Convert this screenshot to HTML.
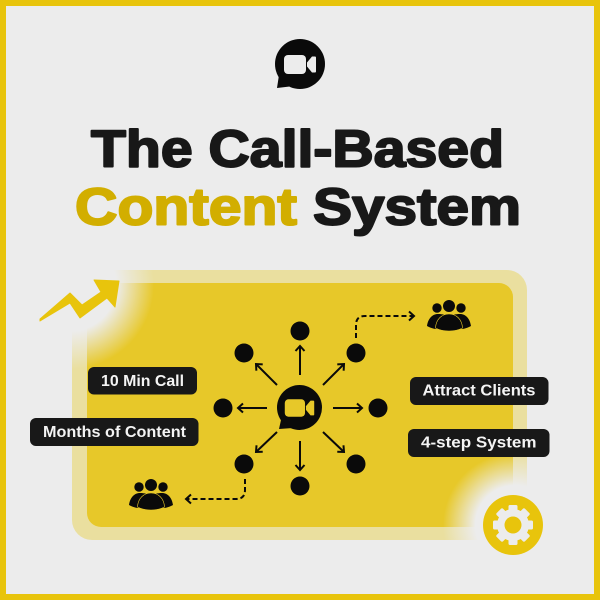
<!DOCTYPE html>
<html><head><meta charset="utf-8"><style>
html,body{margin:0;padding:0;background:#ececec}
svg{display:block}
text{font-family:"Liberation Sans",sans-serif}
.t{font-size:52px;font-weight:700;stroke-width:2px;stroke-linejoin:round}
.l{font-size:15.5px;font-weight:700;fill:#f4f4f4}
</style></head><body>
<svg width="600" height="600" viewBox="0 0 600 600" xmlns="http://www.w3.org/2000/svg">
<defs>
<radialGradient id="g"><stop offset="0" stop-color="#ececec"/><stop offset=".55" stop-color="#ececec"/><stop offset="1" stop-color="#ececec" stop-opacity="0"/></radialGradient>
<marker id="a" markerWidth="9" markerHeight="12" refX="7" refY="6" orient="auto" markerUnits="userSpaceOnUse"><path d="M2 1.500 L7 6 L2 10.500" fill="none" stroke="#0a0a0a" stroke-width="2"/></marker>
<g id="cam"><rect x="-16" y="-9.500" width="22" height="19" rx="4"/><path d="M7 -2L12 -8h3a1 1 0 0 1 1 1v14a1 1 0 0 1-1 1h-3L7 2z"/></g>
<g id="ppl">
<circle cx="-12" cy="-7" r="4.700" fill="#0a0a0a"/><circle cx="0" cy="-9" r="6" fill="#0a0a0a"/><circle cx="12" cy="-7" r="4.700" fill="#0a0a0a"/>
<path d="M-22 11C-21 4-17-1-11-1C-6-1-3 0 0 2C3 0 6-1 11-1C17-1 21 4 22 11C18 13 15 14 12 14H-12C-15 14-18 13-22 11z" fill="#0a0a0a"/>
<path d="M-13.500 13C-13 4-7-1 0-1C7-1 13 4 13.500 13C6 17-6 17-13.500 13z" fill="#0a0a0a" stroke="#e7c829" stroke-width=".6"/>
</g>
</defs>
<rect width="600" height="600" fill="#ececec"/>

<!-- panel -->
<rect x="72" y="270" width="455" height="270" rx="20" fill="#eadf9f"/>
<rect x="87" y="283" width="426" height="244" rx="14" fill="#e7c829"/>
<circle cx="70" cy="285" r="84" fill="url(#g)"/>
<circle cx="515" cy="525" r="72" fill="url(#g)"/>

<!-- border -->
<rect x="3" y="3" width="594" height="594" fill="none" stroke="#e8c40c" stroke-width="6"/>

<!-- top icon -->
<circle cx="300" cy="64" r="25" fill="#0a0a0a"/><path d="M279 75L277 88L294 86z" fill="#0a0a0a"/>
<use href="#cam" x="300" y="64.500" fill="#ececec"/>

<!-- title -->
<text class="t" x="91" y="166.500" fill="#181818" stroke="#181818" textLength="413" lengthAdjust="spacingAndGlyphs">The Call-Based</text>
<text class="t" x="75" y="224.500" fill="#d2ae00" stroke="#d2ae00" textLength="222" lengthAdjust="spacingAndGlyphs">Content</text>
<text class="t" x="313" y="224.500" fill="#181818" stroke="#181818" textLength="208" lengthAdjust="spacingAndGlyphs">System</text>

<!-- zig arrow -->
<path d="M40 319L70 293L82 305L101 292L94 280L119 281L115 307L107 298L80 318L70 303L40 321z" fill="#e8c40c" stroke="#e8c40c" stroke-linejoin="round"/>

<!-- gear -->
<circle cx="513" cy="525" r="30" fill="#e8c40c"/>
<g transform="translate(513,525)" fill="#ececec">
<circle r="16"/>
<rect x="-4.500" y="-20" width="9" height="40" rx="1.500"/>
<rect x="-4.500" y="-20" width="9" height="40" rx="1.500" transform="rotate(45)"/>
<rect x="-4.500" y="-20" width="9" height="40" rx="1.500" transform="rotate(90)"/>
<rect x="-4.500" y="-20" width="9" height="40" rx="1.500" transform="rotate(135)"/>
<circle r="8.500" fill="#e8c40c"/>
</g>

<!-- nodes -->
<g fill="#0a0a0a">
<circle cx="300" cy="331" r="9.500"/><circle cx="244" cy="353" r="9.500"/><circle cx="356" cy="353" r="9.500"/>
<circle cx="223" cy="408" r="9.500"/><circle cx="378" cy="408" r="9.500"/>
<circle cx="244" cy="464" r="9.500"/><circle cx="356" cy="464" r="9.500"/><circle cx="300" cy="486" r="9.500"/>
</g>
<g stroke="#0a0a0a" stroke-width="2" fill="none">
<path d="M277 385L256 364" marker-end="url(#a)"/>
<path d="M267 408L238 408" marker-end="url(#a)"/>
<path d="M277 432L256 452" marker-end="url(#a)"/>
<path d="M300 375L300 346" marker-end="url(#a)"/>
<path d="M300 441L300 470" marker-end="url(#a)"/>
<path d="M323 385L344 364" marker-end="url(#a)"/>
<path d="M333 408L362 408" marker-end="url(#a)"/>
<path d="M323 432L344 452" marker-end="url(#a)"/>
<path d="M356 338V325Q356 316 365 316H414" stroke-dasharray="5 3" marker-end="url(#a)"/>
<path d="M245 479V490Q245 499 236 499H186" stroke-dasharray="5 3" marker-end="url(#a)"/>
</g>

<!-- center icon -->
<circle cx="299.500" cy="407.500" r="22.500" fill="#0a0a0a"/><path d="M281 420L279 429L293 428z" fill="#0a0a0a"/>
<g transform="translate(299.500,408) scale(.92)" fill="#e7c829"><use href="#cam"/></g>

<!-- people -->
<use href="#ppl" x="449" y="315"/>
<use href="#ppl" x="151" y="494"/>

<!-- labels -->
<rect x="88" y="367" width="109" height="27.500" rx="6" fill="#181818"/>
<text class="l" x="101" y="386" textLength="83" lengthAdjust="spacingAndGlyphs">10 Min Call</text>
<rect x="30" y="418" width="168.500" height="28" rx="6" fill="#181818"/>
<text class="l" x="43" y="437" textLength="143" lengthAdjust="spacingAndGlyphs">Months of Content</text>
<rect x="410" y="377" width="138.500" height="28" rx="6" fill="#181818"/>
<text class="l" x="422.500" y="395.500" textLength="113" lengthAdjust="spacingAndGlyphs">Attract Clients</text>
<rect x="408" y="429" width="141.500" height="28" rx="6" fill="#181818"/>
<text class="l" x="421" y="447.500" textLength="115.500" lengthAdjust="spacingAndGlyphs">4-step System</text>
</svg>
</body></html>
